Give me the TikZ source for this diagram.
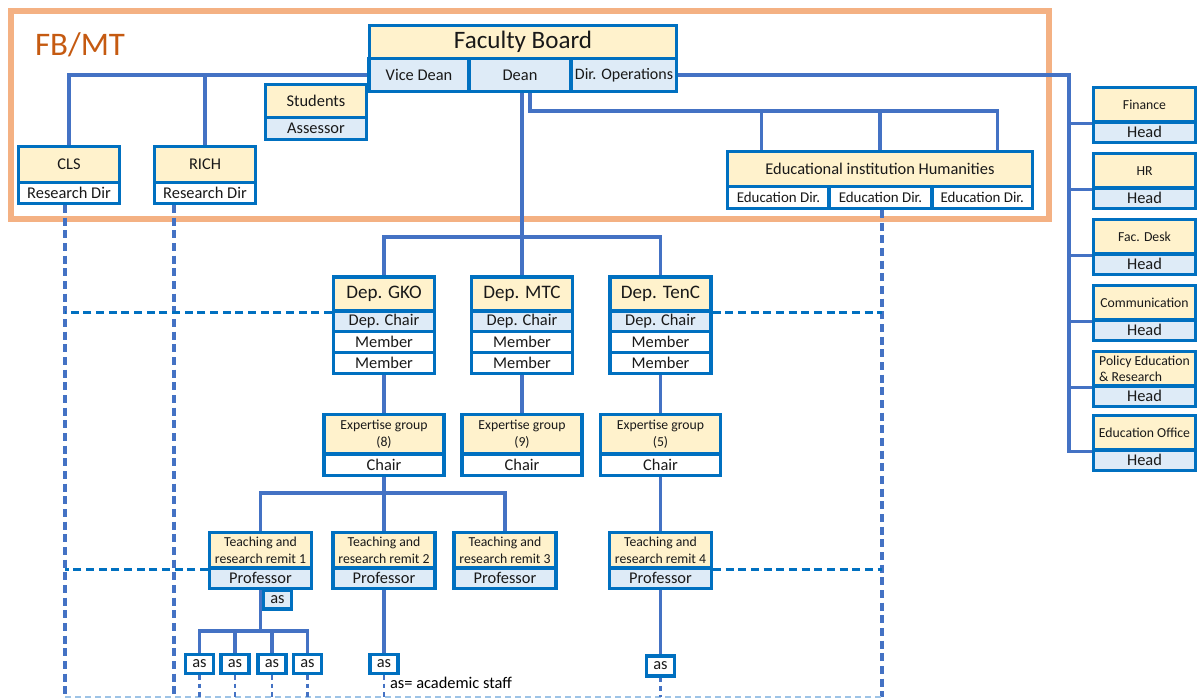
\documentclass[tikz,border=0pt]{standalone}
\usepackage{fontspec}
\setmainfont{Carlito}
\usepackage{xcolor}
\usepackage{tikz}
\usetikzlibrary{positioning,calc}

\definecolor{boxblue}{HTML}{0070C0}
\definecolor{lineblue}{HTML}{4472C4}
\definecolor{paleyellow}{HTML}{FFF2CC}
\definecolor{paleblue}{HTML}{DEEBF7}
\definecolor{frameorange}{HTML}{F4B183}
\definecolor{textorange}{HTML}{C55A11}
\definecolor{lightdash}{HTML}{9DC3E6}

\begin{document}
\begin{tikzpicture}[x=0.75pt, y=-0.75pt,
  bw/.style={minimum width=#1*0.75pt},
  bh/.style={minimum height=#1*0.75pt},
  cell/.style={draw=boxblue, line width=2.3pt, inner sep=0pt, align=center, text=black!90},
  ttl/.style={cell, fill=paleyellow},
  sub/.style={cell, fill=paleblue},
  wcell/.style={cell, fill=white},
  conn/.style={draw=lineblue, line width=2.3pt},
  vdash/.style={draw=lineblue, line width=2.3pt, dash pattern=on 6pt off 3.5pt},
  hdash/.style={draw=boxblue, line width=2.3pt, dash pattern=on 6pt off 3.5pt},
  sdash/.style={draw=lineblue, line width=2pt, dash pattern=on 3.5pt off 3pt},
  ldash/.style={draw=lightdash, line width=1.2pt, dash pattern=on 4.5pt off 3pt},
  f16/.style={font=\fontsize{18.8}{22}\selectfont},
  f14/.style={font=\fontsize{14.3}{17}\selectfont},
  f12/.style={font=\fontsize{12.3}{14}\selectfont},
  f11/.style={font=\fontsize{11.2}{13}\selectfont},
  f10/.style={font=\fontsize{10.3}{12.3}\selectfont}]
\useasboundingbox (0,0) rectangle (1198,699);

  % FB/MT frame
\node (fbmt) at (530,115) [draw=frameorange, line width=4.5pt, inner sep=0pt, bw=1038, bh=208] {};
\node (fbmtlbl) at (80,45) [text=textorange, font=\fontsize{24.7}{28}\selectfont] {FB/MT};

  % Faculty board and deans
\node (fb) at (523,42) [ttl, bw=307, bh=33, f16] {Faculty Board};
\node (vd) at (419,75) [sub, bw=100, bh=33, f12] {Vice Dean};
\node (dean) at (520,75) [sub, bw=102, bh=33, f12] {Dean};
\node (dirop) at (624,75) [sub, bw=105, bh=33, font=\fontsize{12}{14}\selectfont] {Dir. Operations};

\node (stu) at (316,101) [ttl, bw=101, bh=33, f12] {Students};
\node (stuass) at (316,128.5) [sub, bw=101, bh=22, f12] {Assessor};

\node (cls) at (69,164.5) [ttl, bw=101, bh=36, f12] {CLS};
\node (clsrd) at (69,193) [wcell, bw=101, bh=21, f12] {Research Dir};
\node (rich) at (205,164.5) [ttl, bw=101, bh=36, f12] {RICH};
\node (richrd) at (205,193) [wcell, bw=101, bh=21, f12] {Research Dir};

\node (edu) at (880,169) [ttl, bw=305, bh=35, f12] {Educational institution Humanities};
\node (edudir1) at (778.5,197.5) [wcell, bw=102, bh=22, f11] {Education Dir.};
\node (edudir2) at (880.5,197.5) [wcell, bw=103, bh=22, f11] {Education Dir.};
\node (edudir3) at (982.25,197.5) [wcell, bw=100.5, bh=22, f11] {Education Dir.};

  % Support units on the right
\node (fin) at (1144.5,104.75) [ttl, bw=102, bh=34.5, f10] {Finance};
\node (finhd) at (1144.5,132.25) [sub, bw=102, bh=20.5, f12] {Head};
\node (hr) at (1144.5,170.75) [ttl, bw=102, bh=34.5, f10] {HR};
\node (hrhd) at (1144.5,198.25) [sub, bw=102, bh=20.5, f12] {Head};
\node (fac) at (1144.5,236.75) [ttl, bw=102, bh=34.5, f10] {Fac. Desk};
\node (fachd) at (1144.5,264.25) [sub, bw=102, bh=20.5, f12] {Head};
\node (com) at (1144.5,302.75) [ttl, bw=102, bh=34.5, f10] {Communication};
\node (comhd) at (1144.5,330.25) [sub, bw=102, bh=20.5, f12] {Head};
\node (pol) at (1144.5,368.75) [ttl, bw=102, bh=34.5, f10, align=left] {Policy Education\\\& Research};
\node (polhd) at (1144.5,396.25) [sub, bw=102, bh=20.5, f12] {Head};
\node (eo) at (1144.5,432.75) [ttl, bw=102, bh=34.5, f10] {Education Office};
\node (eohd) at (1144.5,460.25) [sub, bw=102, bh=20.5, f12] {Head};

  % Departments
\node (gko) at (384,294) [ttl, bw=101, bh=34, f14] {Dep. GKO};
\node (gkoch) at (384,321.25) [sub, bw=101, bh=20.5, f12] {Dep. Chair};
\node (gkom1) at (384,342) [wcell, bw=101, bh=21, f12] {Member};
\node (gkom2) at (384,363) [wcell, bw=101, bh=21, f12] {Member};
\node (mtc) at (522,294) [ttl, bw=101, bh=34, f14] {Dep. MTC};
\node (mtcch) at (522,321.25) [sub, bw=101, bh=20.5, f12] {Dep. Chair};
\node (mtcm1) at (522,342) [wcell, bw=101, bh=21, f12] {Member};
\node (mtcm2) at (522,363) [wcell, bw=101, bh=21, f12] {Member};
\node (tenc) at (660.5,294) [ttl, bw=101, bh=34, f14] {Dep. TenC};
\node (tencch) at (660.5,321.25) [sub, bw=101, bh=20.5, f12] {Dep. Chair};
\node (tencm1) at (660.5,342) [wcell, bw=101, bh=21, f12] {Member};
\node (tencm2) at (660.5,363) [wcell, bw=101, bh=21, f12] {Member};

  % Expertise groups
\node (eg1) at (384,434.25) [ttl, bw=120, bh=39.5, f10] {Expertise group\\(8)};
\node (eg1ch) at (384,464.75) [wcell, bw=120, bh=21.5, f12] {Chair};
\node (eg2) at (522,434.25) [ttl, bw=120, bh=39.5, f10] {Expertise group\\(9)};
\node (eg2ch) at (522,464.75) [wcell, bw=120, bh=21.5, f12] {Chair};
\node (eg3) at (660.5,434.25) [ttl, bw=120, bh=39.5, f10] {Expertise group\\(5)};
\node (eg3ch) at (660.5,464.75) [wcell, bw=120, bh=21.5, f12] {Chair};

  % Teaching and research remits
\node (rem1) at (260.5,550.25) [ttl, bw=102, bh=35.5, f10] {Teaching and\\research remit 1};
\node (rem1p) at (260.5,578.25) [sub, bw=102, bh=20.5, f12] {Professor};
\node (rem2) at (384,550.25) [ttl, bw=102, bh=35.5, f10] {Teaching and\\research remit 2};
\node (rem2p) at (384,578.25) [sub, bw=102, bh=20.5, f12] {Professor};
\node (rem3) at (505,550.25) [ttl, bw=102, bh=35.5, f10] {Teaching and\\research remit 3};
\node (rem3p) at (505,578.25) [sub, bw=102, bh=20.5, f12] {Professor};
\node (rem4) at (660.5,550.25) [ttl, bw=102, bh=35.5, f10] {Teaching and\\research remit 4};
\node (rem4p) at (660.5,578.25) [sub, bw=102, bh=20.5, f12] {Professor};

  % Academic staff
\node (as0) at (277.5,599.5) [sub, bw=28, bh=19, f12] {as};
\node (as1) at (199.5,664) [wcell, bw=28, bh=19, f12] {as};
\node (as2) at (235,664) [wcell, bw=28, bh=19, f12] {as};
\node (as3) at (272,664) [wcell, bw=28, bh=19, f12] {as};
\node (as4) at (307.5,664) [wcell, bw=28, bh=19, f12] {as};
\node (asb) at (384,664) [wcell, bw=28, bh=19, f12] {as};
\node (asd) at (660.5,666) [wcell, bw=28, bh=20, f12] {as};
\node (asnote) at (451,683) [f12] {as= academic staff};

  % Solid reporting lines
\draw[conn] (vd.west) -| (cls.north);
\draw[conn] (vd.west) -| (rich.north);

\coordinate (deanjog) at (530,111);
\draw[conn] (dean.south -| deanjog) -- (deanjog) -| ($(edu.north east)+(-36.5,0)$);
\draw[conn] (deanjog) -| ($(edu.north west)+(35.5,0)$);
\draw[conn] (deanjog) -| (edu.north);

\coordinate (depjog) at (522,237);
\draw[conn] (dean.south -| depjog) -- (depjog);
\draw[conn] (gko.north) |- (depjog) -| (tenc.north);
\draw[conn] (depjog) -- (mtc.north);

\coordinate (opjog) at (1069,75);
\draw[conn] (dirop.east) -- (opjog) |- (eo.south west);
\draw[conn] (opjog) |- (fin.south west);
\draw[conn] (opjog) |- (hr.south west);
\draw[conn] (opjog) |- (fac.south west);
\draw[conn] (opjog) |- (com.south west);
\draw[conn] (opjog) |- (pol.south west);

\draw[conn] (gkom2.south) -- (eg1.north);
\draw[conn] (mtcm2.south) -- (eg2.north);
\draw[conn] (tencm2.south) -- (eg3.north);

\coordinate (remjog) at (384,493);
\draw[conn] (eg1ch.south) -- (remjog);
\draw[conn] (rem1.north) |- (remjog) -| (rem3.north);
\draw[conn] (remjog) -- (rem2.north);
\draw[conn] (eg3ch.south) -- (rem4.north);

\coordinate (asjog) at (260.5,631);
\draw[conn] (rem1p.south) -- (asjog);
\draw[conn] (as1.north) |- (asjog) -| (as4.north);
\draw[conn] (asjog) -| (as2.north);
\draw[conn] (asjog) -| (as3.north);
\draw[conn] (rem2p.south) -- (asb.north);
\draw[conn] (rem4p.south) -- (asd.north);

  % Dashed research lines
\coordinate (dl1) at (65,697);
\coordinate (dl2) at (174,697);
\coordinate (dl3) at (882,697);
\draw[vdash] (dl1 |- clsrd.south) -- (dl1);
\draw[vdash] (dl2 |- richrd.south) -- (dl2);
\draw[vdash] (dl3 |- edudir2.south) -- (dl3);
\draw[hdash] (gko.south west) -- (dl1 |- gko.south west);
\draw[hdash] (tenc.south east) -- (dl3 |- tenc.south east);
\draw[hdash] (rem1.south west) -- (dl1 |- rem1.south west);
\draw[hdash] (rem4.south east) -- (dl3 |- rem4.south east);
\draw[ldash] (dl1) -- (dl3);
\draw[sdash] (as1.south) -- (as1.south |- dl1);
\draw[sdash] (as2.south) -- (as2.south |- dl1);
\draw[sdash] (as3.south) -- (as3.south |- dl1);
\draw[sdash] (as4.south) -- (as4.south |- dl1);
\draw[sdash] (asb.south) -- (asb.south |- dl1);
\draw[sdash] (asd.south) -- (asd.south |- dl1);
\end{tikzpicture}
\end{document}
